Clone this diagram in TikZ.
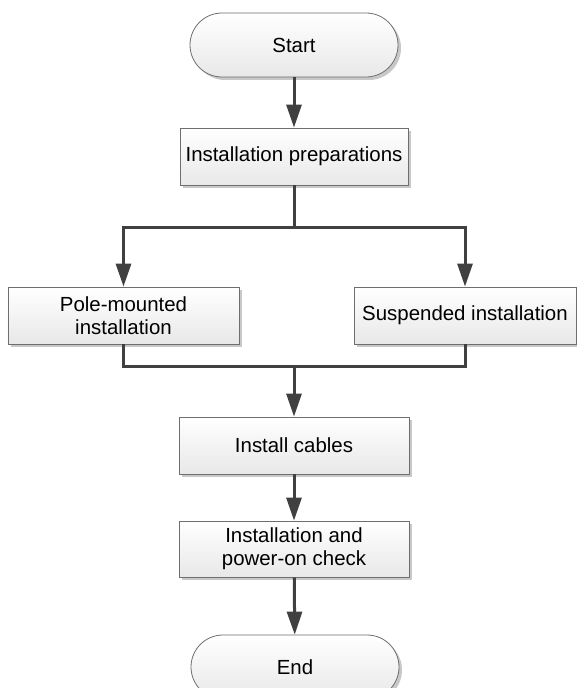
\documentclass[tikz,border=0pt]{standalone}
\usepackage{fontspec}
\setmainfont{Liberation Sans}
\usetikzlibrary{arrows.meta,shadows}

\definecolor{flowline}{RGB}{64,64,64}
\definecolor{boxline}{RGB}{110,110,110}
\definecolor{boxlow}{RGB}{232,232,232}
\definecolor{shadowgray}{RGB}{200,200,200}

\tikzset{
  stepbox/.style={draw=boxline, line width=0.8bp, top color=white, bottom color=boxlow,
    drop shadow={shadow xshift=3bp, shadow yshift=-3bp, fill=shadowgray, opacity=1},
    align=center, inner sep=2bp, font=\fontsize{20.5}{23.5}\selectfont},
  termbox/.style={stepbox, rounded corners=32bp, minimum width=208bp, minimum height=64bp},
  flow/.style={draw=flowline, line width=3bp, -{Triangle[length=23bp,width=15bp]}},
  plainline/.style={draw=flowline, line width=3bp}
}

\begin{document}
\begin{tikzpicture}[x=1bp,y=1bp,yscale=-1]
\useasboundingbox (0,0) rectangle (577,688);

% terminals
\node [termbox] (start) at (294,45) {Start};
\node [termbox] (finish) at (295,667) {End};

% process steps
\node [stepbox, minimum width=228bp, minimum height=57bp] (prep) at (294,156.5) {Installation preparations};
\node [stepbox, minimum width=231bp, minimum height=57bp] (pole) at (123.5,315.5) {Pole-mounted\\installation};
\node [stepbox, minimum width=222bp, minimum height=57bp] (susp) at (465,315.5) {Suspended installation};
\node [stepbox, minimum width=230bp, minimum height=57bp] (cables) at (294,445.5) {Install cables};
\node [stepbox, minimum width=230bp, minimum height=56bp] (check) at (294,549) {Installation and\\power-on check};

% split and merge points
\coordinate (split) at (294,227);
\coordinate (merge) at (294,366);

% connectors
\draw [flow] (start) -- (prep);
\draw [plainline] (prep) -- (split);
\draw [flow] (split) -| (pole);
\draw [flow] (split) -| (susp);
\draw [plainline] (pole) |- (merge);
\draw [plainline] (susp) |- (merge);
\draw [flow] (merge) -- (cables);
\draw [flow] (cables) -- (check);
\draw [flow] (check) -- (finish);

\end{tikzpicture}
\end{document}
